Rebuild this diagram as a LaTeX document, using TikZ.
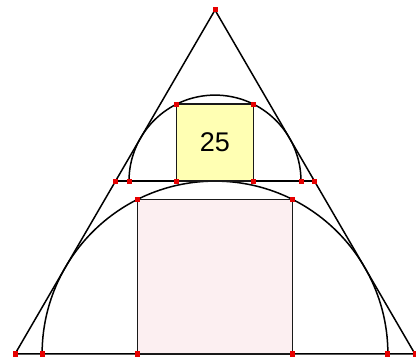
\documentclass[tikz,border=0pt]{standalone}
\usepackage{fontspec}
\setmainfont{Liberation Sans}
\definecolor{sqyellow}{HTML}{FFFFB3}
\definecolor{sqpink}{HTML}{FCEFF1}
\definecolor{ptred}{HTML}{E60000}

\begin{document}
\begin{tikzpicture}[x=1pt, y=-1pt,
  edge/.style={black, line width=1.5pt, line join=round},
  sq/.style={edge, draw=black!90},
  ptmark/.style={fill=ptred, draw=none, rectangle, minimum size=5pt, inner sep=0pt}
]
\useasboundingbox (0,0) rectangle (416,361);
% triangle
\coordinate (A) at (215,10);
\coordinate (B) at (15,354);
\coordinate (C) at (415,354);
% big semicircle and square
\coordinate (P1) at (42.1,354);
\coordinate (P2) at (387.9,354);
\coordinate (Q1) at (137.7,354);
\coordinate (Q2) at (292.3,354);
\coordinate (Q3) at (292.3,199.4);
\coordinate (Q4) at (137.7,199.4);
% upper line, small semicircle and square
\coordinate (L1) at (115.5,181.1);
\coordinate (L2) at (314.5,181.1);
\coordinate (S1) at (129,181.1);
\coordinate (S2) at (301,181.1);
\coordinate (R1) at (176.5,181.1);
\coordinate (R2) at (253.5,181.1);
\coordinate (R3) at (253.5,104.2);
\coordinate (R4) at (176.5,104.2);

\fill[sqpink] (Q1) rectangle (Q3);
\fill[sqyellow] (R1) rectangle (R3);
\node[font=\fontsize{27}{30}\selectfont] (lab) at (215,142.6) {25};

\draw[edge] (A) -- (B) -- (C) -- cycle;
\draw[edge] (L1) -- (L2);
\draw[edge] (P2) arc[start angle=0, end angle=-180, radius=172.9];
\draw[edge] (S2) arc[start angle=0, end angle=-180, radius=86];
\draw[sq] (Q1) -- (Q2) -- (Q3) -- (Q4) -- cycle;
\draw[sq] (R1) -- (R2) -- (R3) -- (R4) -- cycle;

\foreach \p in {A,B,C,P1,P2,Q1,Q2,Q3,Q4,L1,L2,S1,S2,R1,R2,R3,R4}
  \node[ptmark] at (\p) {};
\end{tikzpicture}
\end{document}
